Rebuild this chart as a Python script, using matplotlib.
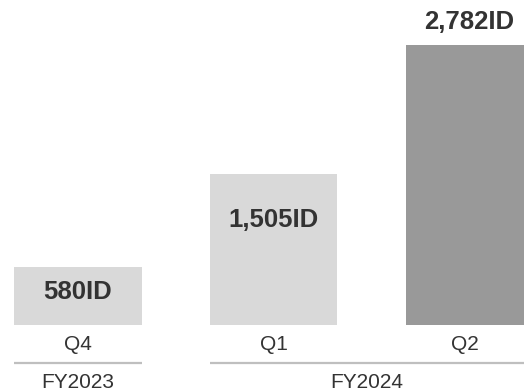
import matplotlib
matplotlib.use("Agg")
import matplotlib.pyplot as plt
from matplotlib.transforms import blended_transform_factory

plt.rcParams['font.family'] = ['Liberation Sans', 'DejaVu Sans']

# Data
quarters = ["Q4", "Q1", "Q2"]
fiscal_years = ["FY2023", "FY2024", "FY2024"]
values = [580, 1505, 2782]
value_labels = ["580ID", "1,505ID", "2,782ID"]

# Styling
bar_colors = ["#d9d9d9", "#d9d9d9", "#999999"]
text_color = "#333333"
rule_color = "#bfbfbf"
# label anchor offsets from bar top, in pixels (negative = inside bar)
label_offsets = [-25, -46, 23]

W, H = 524, 392
fig = plt.figure(figsize=(W / 100, H / 100), dpi=100)
base_px = 325.3            # bar baseline, pixels from top
ax = fig.add_axes([0, 1 - base_px / H, 1, base_px / H])
ax.set_xlim(-0.3986, 2.279)
ax.set_ylim(0, 3230)
ax.axis("off")

width = 0.651
x = list(range(len(values)))
ax.bar(x, values, width=width, color=bar_colors, edgecolor="none")

for xi, v, lab, off in zip(x, values, value_labels, label_offsets):
    ax.annotate(lab, (xi, v), xytext=(0, off), textcoords="offset pixels",
                ha="center", va="center", fontsize=18.5, fontweight="bold",
                color=text_color, annotation_clip=False)

trans = blended_transform_factory(ax.transData, fig.transFigure)
xmax = ax.get_xlim()[1]

def fy(p):
    return 1 - p / H

# Quarter labels, centred on the visible part of each bar
for xi, q in zip(x, quarters):
    left, right = xi - width / 2, min(xi + width / 2, xmax)
    ax.text((left + right) / 2, fy(345), q, transform=trans, ha="center",
            va="center", fontsize=15, color=text_color, clip_on=False)

# Fiscal-year group rules and labels
groups = []
for xi, g in zip(x, fiscal_years):
    if groups and groups[-1][0] == g:
        groups[-1][2] = xi
    else:
        groups.append([g, xi, xi])

for g, first, last in groups:
    left = first - width / 2
    right = min(last + width / 2, xmax)
    ax.plot([left, right], [fy(363.2), fy(363.2)], transform=trans,
            color=rule_color, lw=1.6, clip_on=False, solid_capstyle="butt")
    ax.text((left + right) / 2, fy(383), g, transform=trans, ha="center",
            va="center", fontsize=15, color=text_color, clip_on=False)

fig.savefig("out.png", dpi=100)
